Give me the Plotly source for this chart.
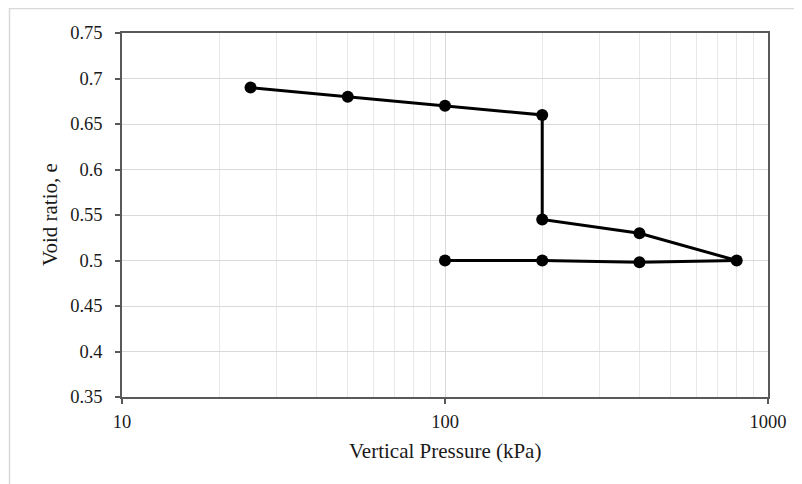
import plotly.graph_objects as go

pressure = [25, 50, 100, 200, 200, 400, 800, 400, 200, 100]
void_ratio = [0.69, 0.68, 0.67, 0.66, 0.545, 0.53, 0.50, 0.498, 0.50, 0.50]
y_ticks = [0.35, 0.4, 0.45, 0.5, 0.55, 0.6, 0.65, 0.7, 0.75]
y_tick_labels = ["0.35", "0.4", "0.45", "0.5", "0.55", "0.6", "0.65", "0.7", "0.75"]
x_ticks = [10, 100, 1000]
x_tick_labels = ["10", "100", "1000"]

font_family = "Liberation Serif, Times New Roman, serif"
text_color = "#1a1a1a"
axis_color = "#595959"

# page body offset of 8px is compensated in margins
L, T, R, B = 122 - 8, 33 - 8, 768 - 8, 397 - 8
W, H = 802, 484
pw, ph = R - L, B - T

fig = go.Figure()
fig.add_trace(go.Scatter(
    x=pressure, y=void_ratio, mode="lines+markers",
    line=dict(color="black", width=3),
    marker=dict(color="black", size=12, symbol="circle"),
    showlegend=False,
))

fig.update_layout(
    width=W, height=H,
    margin=dict(l=L, r=W - R, t=T, b=H - B),
    paper_bgcolor="white", plot_bgcolor="white",
    font=dict(family=font_family, size=18, color=text_color),
    xaxis=dict(
        type="log", range=[1, 3],
        tickvals=x_ticks, ticktext=x_tick_labels,
        ticks="outside", ticklen=5, tickcolor=axis_color, tickwidth=1.5,
        showline=True, linecolor=axis_color, linewidth=1.5, mirror=True,
        showgrid=True, gridcolor="#d9d9d9", gridwidth=1,
        minor=dict(dtick="D1", showgrid=True, gridcolor="#e8e8e8", gridwidth=1, ticks=""),
        tickfont=dict(size=18.5, family=font_family, color=text_color),
        ticklabelstandoff=2,
        zeroline=False,
    ),
    yaxis=dict(
        range=[0.35, 0.75],
        tickvals=y_ticks, ticktext=y_tick_labels,
        ticks="outside", ticklen=5, tickcolor=axis_color, tickwidth=1.5,
        showline=True, linecolor=axis_color, linewidth=1.5, mirror=True,
        showgrid=True, gridcolor="#d9d9d9", gridwidth=1,
        tickfont=dict(size=18.5, family=font_family, color=text_color),
        ticklabelstandoff=9,
        zeroline=False,
    ),
    annotations=[
        dict(text="Vertical Pressure (kPa)", xref="paper", yref="paper",
             x=0.5, y=-(451 - 397) / ph, xanchor="center", yanchor="middle",
             showarrow=False, font=dict(size=21, family=font_family, color=text_color)),
        dict(text="Void ratio, e", xref="paper", yref="paper",
             x=(50 - 122) / pw, y=0.5, xanchor="center", yanchor="middle", textangle=-90,
             showarrow=False, font=dict(size=21, family=font_family, color=text_color)),
    ],
    shapes=[dict(
        type="rect", xref="paper", yref="paper",
        x0=(9.5 - 122) / pw, x1=(840 - 122) / pw,
        y0=-1.0, y1=1 + (33 - 8.5) / ph,
        line=dict(color="#d9d9d9", width=1.5), fillcolor="rgba(0,0,0,0)",
        layer="below",
    )],
)

fig.write_html("out.html")
